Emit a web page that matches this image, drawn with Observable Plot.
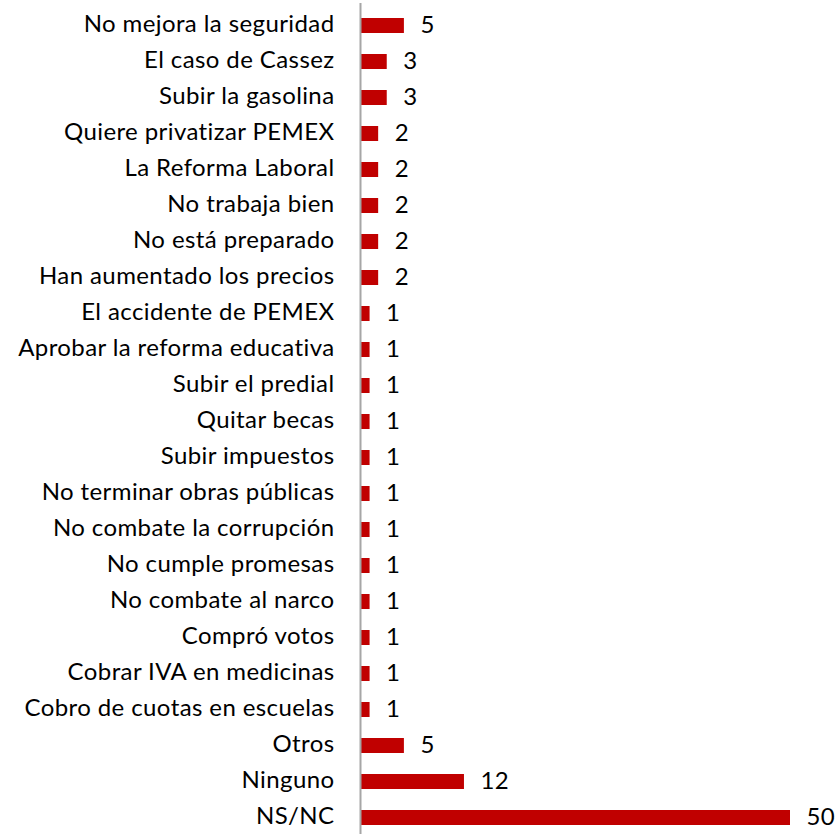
<!DOCTYPE html>
<html>
<head>
<meta charset="utf-8">
<script src="https://cdn.jsdelivr.net/npm/d3@7"></script>
<script src="https://cdn.jsdelivr.net/npm/@observablehq/plot@0.6"></script>
<style>
  html, body { margin: 0; padding: 0; background: #fff; }
  #chart svg { display: block; }
  #chart svg text { letter-spacing: 0.4px; }
</style>
</head>
<body>
<div id="chart"></div>
<script>
const categories = [
  "No mejora la seguridad",
  "El caso de Cassez",
  "Subir la gasolina",
  "Quiere privatizar PEMEX",
  "La Reforma Laboral",
  "No trabaja bien",
  "No está preparado",
  "Han aumentado los precios",
  "El accidente de PEMEX",
  "Aprobar la reforma educativa",
  "Subir el predial",
  "Quitar becas",
  "Subir impuestos",
  "No terminar obras públicas",
  "No combate la corrupción",
  "No cumple promesas",
  "No combate al narco",
  "Compró votos",
  "Cobrar IVA en medicinas",
  "Cobro de cuotas en escuelas",
  "Otros",
  "Ninguno",
  "NS/NC"
];
const values = [5, 3, 3, 2, 2, 2, 2, 2, 1, 1, 1, 1, 1, 1, 1, 1, 1, 1, 1, 1, 5, 12, 50];

const data = categories.map((c, i) => ({category: c, value: values[i]}));

const font = "Lato, 'Open Sans', sans-serif";

const chart = Plot.plot({
  width: 836,
  height: 834,
  marginLeft: 361,
  marginRight: 46,
  marginTop: 3,
  marginBottom: 0,
  style: {fontFamily: font, fontSize: "24px", color: "#000", background: "#fff"},
  x: {domain: [0, 50], axis: null},
  y: {
    domain: categories,
    range: [3.33, 839.67],
    paddingInner: 0.587,
    paddingOuter: 0.2935,
    label: null
  },
  marks: [
    Plot.barX(data, {x: "value", y: "category", fill: "#C00000"}),
    Plot.ruleX([0], {stroke: "#A6A6A6", strokeWidth: 2, dx: -1}),
    Plot.axisY({tickSize: 0, tickPadding: 27, fontSize: 24, fill: "#000", label: null, dy: -1.5}),
    Plot.text(data, {x: "value", y: "category", text: d => String(d.value), textAnchor: "start", dx: 16, dy: -0.5, fontSize: 24, fill: "#000"})
  ]
});

document.getElementById("chart").appendChild(chart);
</script>
</body>
</html>
